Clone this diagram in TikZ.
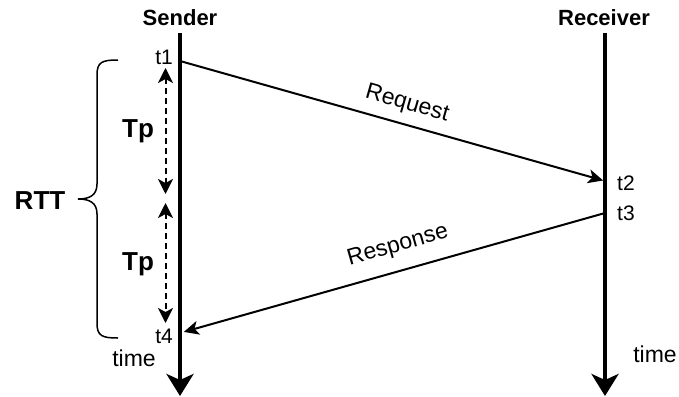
\documentclass[tikz,border=0pt]{standalone}
\usepackage{fontspec}
\setmainfont{Liberation Sans}
\usetikzlibrary{arrows.meta}
\begin{document}
\begin{tikzpicture}[x=1pt,y=-1pt,
  lifeline/.style={line width=4pt,-{Stealth[length=22pt,width=27pt,inset=6pt]}},
  msg/.style={line width=2pt,-{Stealth[length=15pt,width=14pt,inset=4pt]}},
  span/.style={line width=2pt,dash pattern=on 6pt off 4pt,
    {Stealth[length=15pt,width=15pt,inset=4pt]}-{Stealth[length=15pt,width=15pt,inset=4pt]}},
  head/.style={font=\bfseries\fontsize{22}{26}\selectfont,inner sep=0pt},
  big/.style={font=\bfseries\fontsize{26}{30}\selectfont,inner sep=0pt},
  stamp/.style={font=\fontsize{21}{24}\selectfont,inner sep=0pt},
  lbl/.style={font=\fontsize{23}{27}\selectfont,inner sep=0pt}]
\useasboundingbox (0,0) rectangle (679,396);

% lifelines
\node[head] (sender) at (180,18) {Sender};
\node[head] (receiver) at (604,18) {Receiver};
\coordinate (s0) at (180,33);
\coordinate (s1) at (180,396);
\coordinate (r0) at (605,33);
\coordinate (r1) at (605,396);
\draw[lifeline] (s0) -- (s1);
\draw[lifeline] (r0) -- (r1);

% event points
\coordinate (p1) at (180,61);
\coordinate (p2) at (605,181);
\coordinate (p3) at (605,213);
\coordinate (p4) at (180,333);

% messages
\draw[msg,shorten >=2pt] (p1) -- (p2);
\draw[msg,shorten >=4pt] (p3) -- (p4);
\node[lbl,rotate=-15.9] (req) at (407,104) {Request};
\node[lbl,rotate=15.9] (resp) at (398,246) {Response};

% timestamps
\node[stamp,anchor=east] (t1) at (173,57) {t1};
\node[stamp,anchor=west] (t2) at (617,183) {t2};
\node[stamp,anchor=west] (t3) at (617,213) {t3};
\node[stamp,anchor=east] (t4) at (173,336) {t4};
\node[lbl] (time1) at (134,358) {time};
\node[lbl] (time2) at (655,354) {time};

% propagation delays
\coordinate (a0) at (165.5,68);
\coordinate (a1) at (165.5,194);
\coordinate (b0) at (165.5,203);
\coordinate (b1) at (165.5,323);
\draw[span] (a0) -- (a1);
\draw[span] (b0) -- (b1);
\node[big] (tp1) at (138,131) {Tp};
\node[big] (tp2) at (138,264) {Tp};

% round trip brace
\draw[line width=1.5pt]
  (118,60) .. controls (102,60) and (97,62) .. (97,75)
  -- (97,184) .. controls (97,195) and (90,199) .. (78,199)
  .. controls (90,199) and (97,203) .. (97,214)
  -- (97,323) .. controls (97,336) and (102,338) .. (118,338);
\node[big] (rtt) at (40,201) {RTT};
\end{tikzpicture}
\end{document}
